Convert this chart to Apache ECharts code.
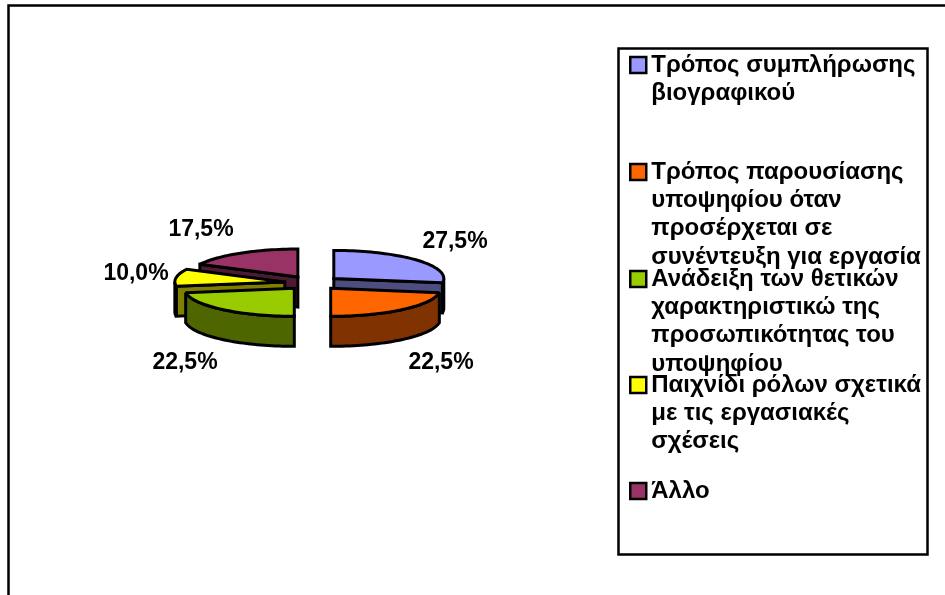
<!DOCTYPE html>
<html>
<head>
<meta charset="utf-8">
<style>
html,body{margin:0;padding:0;background:#fff;}
#main{width:945px;height:595px;}
</style>
<script src="https://cdn.jsdelivr.net/npm/echarts@6/dist/echarts.min.js"></script>
</head>
<body>
<div id="main"></div>
<script>
let categories = [
    'Τρόπος συμπλήρωσης\nβιογραφικού',
    'Τρόπος παρουσίασης\nυποψηφίου όταν\nπροσέρχεται σε\nσυνέντευξη για εργασία',
    'Ανάδειξη των θετικών\nχαρακτηριστικώ της\nπροσωπικότητας του\nυποψηφίου',
    'Παιχνίδι ρόλων σχετικά\nμε τις εργασιακές\nσχέσεις',
    'Άλλο'
];
let values = [27.5, 22.5, 22.5, 10.0, 17.5];
let topColors = ['#9999FF', '#FF6600', '#99CC00', '#FFFF00', '#993366'];
let sideColors = ['#4D4D80', '#803300', '#4D6600', '#808000', '#4D1A33'];

// layout of the tilted pie
let cx = 312.5, cy = 283, rx = 110, ry = 28, depth = 30, explodeX = 28, explodeY = 7;
let labelPos = [[455, 242], [441, 363], [185, 363], [136, 274], [201, 230]];
let drawOrder = [2, 5, 4, 3, 1]; // back slices first
let swatchTop = [57, 164, 271, 377, 483];
let lineH = 28.3;

let total = values.reduce(function (a, b) { return a + b; }, 0);
let starts = [];
values.reduce(function (sum, v, i) { starts[i] = sum; return sum + v; }, 0);

function rim(c, deg) {
    let r = deg * Math.PI / 180;
    return [c[0] + rx * Math.sin(r), c[1] - ry * Math.cos(r)];
}
function arcPoints(c, a, b) {
    let pts = [];
    let n = Math.max(2, Math.ceil((b - a) / 2));
    for (let i = 0; i <= n; i++) {
        pts.push(rim(c, a + (b - a) * i / n));
    }
    return pts;
}
function face(points, color) {
    return {
        type: 'polygon',
        shape: {points: points},
        style: {fill: color, stroke: '#000', lineWidth: 3, lineJoin: 'miter', miterLimit: 2}
    };
}
function down(p) { return [p[0], p[1] + depth]; }

function renderSlice(index) {
    return function (params, api) {
        let a = starts[index] / total * 360;
        let b = a + api.value(0) / total * 360;
        let mid = (a + b) / 2 * Math.PI / 180;
        let c = [cx + explodeX * Math.sin(mid), cy - explodeY * Math.cos(mid)];
        let side = sideColors[index];
        let children = [];
        // radial cut faces that look to the viewer
        if (Math.sin(a * Math.PI / 180) < -0.001) {
            let p = rim(c, a);
            children.push(face([c, p, down(p), down(c)], side));
        }
        if (Math.sin(b * Math.PI / 180) > 0.001) {
            let p = rim(c, b);
            children.push(face([c, p, down(p), down(c)], side));
        }
        // outer wall, front half only
        let from = Math.max(a, 90), to = Math.min(b, 270);
        if (to > from) {
            let arc = arcPoints(c, from, to);
            children.push(face(arc.concat(arc.slice().reverse().map(down)), side));
        }
        children.push(face([c].concat(arcPoints(c, a, b)), api.visual('color')));
        children.push({
            type: 'text',
            x: labelPos[index][0],
            y: labelPos[index][1],
            style: {
                text: api.value(0).toFixed(1).replace('.', ',') + '%',
                font: 'bold 23px "Liberation Sans", Arial, sans-serif',
                fill: '#000',
                align: 'center',
                verticalAlign: 'middle'
            }
        });
        return {type: 'group', children: children};
    };
}

let seriesList = categories.map(function (name, i) {
    return {
        type: 'custom',
        name: name,
        coordinateSystem: 'none',
        z: drawOrder[i],
        silent: true,
        itemStyle: {color: topColors[i]},
        data: [values[i]],
        renderItem: renderSlice(i)
    };
});

// one legend per entry: the entries sit at even steps whatever their line count.
// legend text is centred on the swatch, so blank lines in front push line one level with it
let legendList = categories.map(function (name, i) {
    let n = name.split('\n').length;
    return {
        data: [{name: name, icon: 'rect'}],
        left: 629,
        top: swatchTop[i] + 8 - (n - 0.5) * lineH,
        padding: 0,
        itemWidth: 16,
        itemHeight: 16,
        selectedMode: false,
        formatter: function (text) { return '\n'.repeat(n - 1) + text; },
        itemStyle: {borderColor: '#000', borderWidth: 2.5},
        textStyle: {
            fontFamily: '"Liberation Sans", Arial, sans-serif',
            fontWeight: 'bold',
            fontSize: 24,
            color: '#000',
            lineHeight: lineH
        }
    };
});

let chart = echarts.init(document.getElementById('main'), null, {renderer: 'canvas'});
chart.setOption({
    animation: false,
    backgroundColor: '#fff',
    legend: legendList,
    graphic: [
        {
            type: 'polyline',
            silent: true,
            shape: {points: [[8.5, 600], [8.5, 5.5], [950, 5.5]]},
            style: {fill: null, stroke: '#000', lineWidth: 2.5}
        },
        {
            type: 'rect',
            silent: true,
            z: -1,
            shape: {x: 618.5, y: 48.5, width: 309, height: 506},
            style: {fill: '#fff', stroke: '#000', lineWidth: 2.5}
        }
    ],
    series: seriesList
});
window.addEventListener('resize', function () { chart.resize(); });
</script>
</body>
</html>
